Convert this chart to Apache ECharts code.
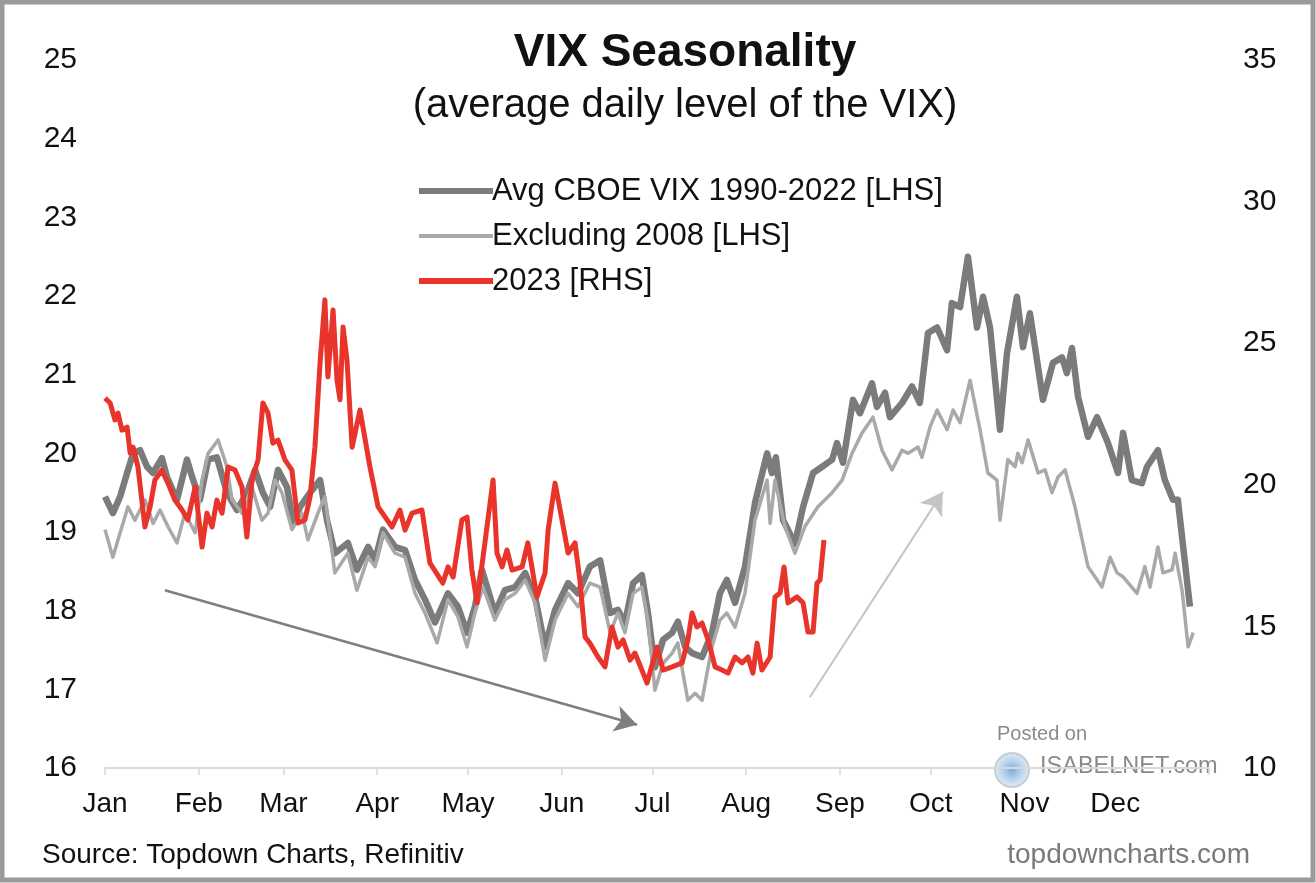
<!DOCTYPE html>
<html>
<head>
<meta charset="utf-8">
<script src="https://cdn.jsdelivr.net/npm/echarts@6/dist/echarts.min.js"></script>
<style>
html,body{margin:0;padding:0;background:#fff;}
#chart{width:1316px;height:883px;}
</style>
</head>
<body>
<div id="chart"></div>
<script>
// Month tick labels and month-start day-of-year positions
const monthLabels = ['Jan','Feb','Mar','Apr','May','Jun','Jul','Aug','Sep','Oct','Nov','Dec'];
const monthStarts = [0,31,59,90,120,151,181,212,243,273,304,334,365];

// Avg CBOE VIX 1990-2022 [LHS] (day of year, level)
const avgDays = [0,2.6,5,7.3,9.3,11.6,13.9,15.9,18.8,20.5,23.8,27.1,28.8,31.4,34.1,37,40.3,43.6,47,49.6,52.2,54.6,57.2,60.2,62.2,64.5,67.8,71.1,73.4,76,80.3,83.3,87,89.3,91.9,95.9,99.2,102.5,105.8,109.1,113.4,116.7,119.7,122.3,124.6,128.9,132.2,135.6,138.9,142.2,145.5,148.8,153.1,156.4,160.3,163.7,167,169.6,171.9,174.6,177.5,179.5,181.8,184.5,187.5,189.4,191.8,194.1,197.4,200.7,203.3,205.6,208.3,211.6,214.9,218.9,220.5,221.8,224.2,228.1,230.8,234.1,237.1,240.4,242,244,247.3,249.6,253.6,255.2,257.9,259.5,263.5,266.8,269.4,272.1,275.1,278.4,280,282.7,285.3,288.3,290.3,292.6,295.9,298.2,301.5,303.5,305.8,310.1,313.4,316.4,318,319.7,321.7,325,328,331.6,334.9,336.6,339.5,342.8,344.5,348.1,350.4,353.1,354.7,358.7];
const avgVals = [19.45,19.24,19.45,19.75,20.0,20.04,19.83,19.75,19.94,19.7,19.41,19.92,19.7,19.41,19.92,19.95,19.5,19.28,19.5,19.79,19.5,19.32,19.79,19.57,19.11,19.32,19.5,19.66,19.15,18.73,18.86,18.52,18.81,18.64,19.03,18.81,18.77,18.39,18.14,17.85,18.22,18.05,17.72,18.05,18.52,17.97,18.26,18.3,18.48,18.17,17.54,18.01,18.35,18.22,18.56,18.64,17.97,18.01,17.84,18.35,18.45,17.97,17.28,17.63,17.72,17.86,17.54,17.46,17.41,17.72,18.22,18.39,18.1,18.56,19.37,20.0,19.75,19.95,19.15,18.85,19.32,19.75,19.83,19.92,20.13,19.88,20.68,20.51,20.89,20.59,20.77,20.46,20.64,20.85,20.64,21.53,21.6,21.31,21.91,21.86,22.5,21.6,21.99,21.6,20.3,21.27,21.99,21.35,21.78,20.68,21.15,21.22,21.02,21.34,20.72,20.21,20.46,20.13,19.75,20.26,19.66,19.62,19.83,20.04,19.66,19.41,19.41,18.05];

// Excluding 2008 [LHS]
const exDays = [0,2.6,5,7.6,9.9,13.2,15.9,18.2,20.8,23.8,26.4,29.8,32.1,34.1,37.4,40.3,42,45.3,48.6,51.9,53.9,56.2,58.5,61.8,65.1,67.1,70.4,72.7,76,80.3,83.3,87,89.3,91.9,95.9,99.2,102.5,105.8,109.8,113.4,116.7,119.7,122.3,125,128.9,132.2,135.6,138.9,142.2,145.5,148.8,153.1,156.4,160.3,163.7,167,169.6,171.9,174.6,177.5,179.5,181.8,184.5,187.5,189.4,191.1,192.7,195.1,197.4,199,200.7,203.3,205.6,208.3,211.6,214.9,218.9,219.9,221.5,224.8,228.1,231.4,235.7,240.4,243.7,247,250.3,253.9,256.9,260.2,263.5,265.5,268.8,270.1,272.8,275.1,278.4,280.4,282.7,286,289.3,291.9,294.9,295.9,298.5,300.9,301.8,303.2,305.2,308.5,310.8,313.1,315.1,317.4,320.7,325,329.6,332.3,334.6,336.6,341.2,343.8,345.5,348.1,349.8,352.8,353.8,356.1,358.1,359.8];
const exVals = [19.03,18.68,18.99,19.32,19.15,19.41,19.11,19.28,19.07,18.86,19.24,18.99,19.66,20.0,20.17,19.83,19.41,19.24,19.57,19.15,19.24,19.66,19.5,19.03,19.24,18.9,19.24,19.45,18.48,18.73,18.26,18.68,18.56,18.99,18.73,18.68,18.22,17.97,17.59,18.14,17.92,17.54,17.97,18.3,17.88,18.14,18.22,18.39,18.1,17.37,17.88,18.22,18.05,18.35,18.3,17.72,17.97,17.72,18.22,18.3,17.88,16.99,17.33,17.46,17.59,17.2,16.86,16.95,16.86,17.2,17.54,17.88,17.97,17.79,18.22,19.15,19.66,19.11,19.66,19.07,18.73,19.07,19.32,19.5,19.66,20.0,20.26,20.46,20.04,19.79,20.04,20.0,20.08,19.95,20.34,20.55,20.3,20.55,20.39,20.93,20.3,19.75,19.66,19.15,19.92,19.83,20.0,19.88,20.17,19.75,19.79,19.5,19.7,19.79,19.32,18.56,18.3,18.68,18.48,18.43,18.22,18.56,18.3,18.81,18.48,18.52,18.73,18.26,17.54,17.72];

// 2023 [RHS]
const y2023Days = [0,1.7,3.3,4.3,5.6,7.3,8.3,9.3,10.9,13.2,14.9,16.5,18.8,20.8,23.1,25.5,27.4,29.8,32.1,33.7,35.4,37,38.7,40.7,43,45.3,46.9,48.6,50.6,52.2,53.9,55.5,57.2,59.5,61.8,63.8,66.1,67.8,69.4,71.1,72.7,73.7,75.4,76.7,77.7,78.7,80,81.7,84.3,87.6,90.3,94.9,97.5,99.2,101.5,104.8,107.4,111.7,113.4,115.1,118,119.7,121.3,123,125.6,128.3,129.6,131.3,132.9,134.6,137.9,139.8,142.8,145.5,146.5,148.8,151.1,153.1,155.4,157,158.7,160.3,163,165.3,167.6,169.6,171.3,173.6,175.2,177.5,179.2,182.5,184.5,187.5,190.8,192.7,194.1,195.7,197.4,199.4,201.7,204,206,208.3,210.6,212.6,214.2,215.6,217.2,219.9,221.5,223.2,224.5,225.8,228.8,230.8,232.4,234.1,235.4,236.4,237.7];
const y2023Vals = [23.06,22.89,22.29,22.53,21.93,22.04,21.12,21.33,20.63,18.51,19.22,20.17,20.52,20.06,19.46,19.11,18.76,19.92,17.8,19.0,18.51,19.46,19.0,20.63,20.52,19.92,18.16,20.17,20.88,22.89,22.53,21.47,21.58,20.88,20.52,18.65,18.76,19.57,21.33,24.3,26.53,23.81,26.17,23.7,23.0,25.57,24.41,21.33,22.64,20.63,19.22,18.51,19.11,18.4,19.0,19.11,17.24,16.53,17.1,16.74,18.76,18.86,16.99,15.83,17.95,20.17,17.59,17.1,17.7,16.99,17.1,17.95,16.04,16.89,18.4,20.06,18.76,17.59,17.95,16.64,14.63,14.41,13.92,13.57,14.98,14.27,14.52,13.81,14.06,13.46,13.0,14.27,13.46,13.57,13.71,14.52,15.47,14.98,15.12,14.52,13.57,13.46,13.35,13.92,13.71,13.92,13.35,14.41,13.46,13.92,16.04,16.18,17.1,15.83,16.04,15.83,14.8,14.8,16.53,16.64,18.05];

// Trend arrows (day, LHS level)
const downArrow = [[19.8,18.26],[175.9,16.55]];
const upArrow = [[233,16.9],[277,19.51]];

const pair = (d, v) => d.map((x, i) => [x, v[i]]);

const FONT = '"Liberation Sans", Arial, Helvetica, sans-serif';
const chart = echarts.init(document.getElementById('chart'), null, {renderer: 'canvas'});

const C_AVG = '#7b7b7b', C_EX = '#a9a9a9', C_23 = '#e8342a';

const option = {
  backgroundColor: '#ffffff',
  animation: false,
  textStyle: {fontFamily: FONT},
  title: [
    {text: 'VIX Seasonality', left: 680, top: 25, textAlign: 'center',
     textStyle: {fontFamily: FONT, fontSize: 46, fontWeight: 'bold', color: '#111'}},
    {text: '(average daily level of the VIX)', left: 680, top: 81, textAlign: 'center',
     textStyle: {fontFamily: FONT, fontSize: 40, fontWeight: 'normal', color: '#111'}}
  ],
  legend: {
    orient: 'vertical', left: 411, top: 168,
    itemWidth: 74, itemHeight: 14, itemGap: 9,
    itemStyle: {opacity: 0},
    textStyle: {fontFamily: FONT, fontSize: 31, color: '#111', lineHeight: 36, padding: [0,0,0,-6]},
    data: [
      {name: 'Avg CBOE VIX 1990-2022 [LHS]', lineStyle: {width: 6, color: C_AVG}},
      {name: 'Excluding 2008 [LHS]', lineStyle: {width: 4, color: C_EX}},
      {name: '2023 [RHS]', lineStyle: {width: 6, color: C_23}}
    ]
  },
  grid: {left: 105, right: 107, top: 60, bottom: 115, containLabel: false},
  xAxis: {
    type: 'value', min: 0, max: 365,
    axisLine: {show: true, lineStyle: {color: '#d9d9d9', width: 2}},
    axisTick: {show: true, length: 7, lineStyle: {color: '#d9d9d9', width: 1.5}, customValues: monthStarts},
    axisLabel: {
      customValues: monthStarts.slice(0, 12),
      formatter: v => monthLabels[monthStarts.indexOf(v)] || '',
      fontFamily: FONT, fontSize: 28, color: '#111', margin: 22
    },
    splitLine: {show: false}
  },
  yAxis: [
    {type: 'value', min: 16, max: 25, interval: 1, position: 'left',
     axisLine: {show: false}, axisTick: {show: false}, splitLine: {show: false},
     axisLabel: {fontFamily: FONT, fontSize: 30, color: '#111', margin: 28}},
    {type: 'value', min: 10, max: 35, interval: 5, position: 'right',
     axisLine: {show: false}, axisTick: {show: false}, splitLine: {show: false},
     axisLabel: {fontFamily: FONT, fontSize: 30, color: '#111', margin: 34}}
  ],
  series: [
    {name: 'Avg CBOE VIX 1990-2022 [LHS]', type: 'line', yAxisIndex: 0, showSymbol: false, symbol: 'none',
     data: pair(avgDays, avgVals), lineStyle: {color: C_AVG, width: 6.5, join: 'round'}, itemStyle: {color: C_AVG},
     z: 2,
     markLine: {
       silent: true, symbol: ['none', 'arrow'], symbolSize: [20, 22], label: {show: false},
       data: [
         [{coord: downArrow[0], lineStyle: {color: '#7f7f7f', width: 2.5, type: 'solid'}}, {coord: downArrow[1]}],
         [{coord: upArrow[0], lineStyle: {color: '#c4c4c4', width: 2, type: 'solid'}}, {coord: upArrow[1]}]
       ]
     }},
    {name: 'Excluding 2008 [LHS]', type: 'line', yAxisIndex: 0, showSymbol: false, symbol: 'none',
     data: pair(exDays, exVals), lineStyle: {color: C_EX, width: 3.5, join: 'round'}, itemStyle: {color: C_EX}, z: 3},
    {name: '2023 [RHS]', type: 'line', yAxisIndex: 1, showSymbol: false, symbol: 'none',
     data: pair(y2023Days, y2023Vals), lineStyle: {color: C_23, width: 5, join: 'round'}, itemStyle: {color: C_23}, z: 4}
  ],
  graphic: [
    {type: 'rect', shape: {x: 2, y: 2, width: 1311, height: 878}, style: {fill: 'none', stroke: '#9a9a9a', lineWidth: 5}, z: 100, silent: true},
    {type: 'text', left: 42, top: 841, style: {text: 'Source: Topdown Charts, Refinitiv', fontFamily: FONT, fontSize: 28, fill: '#111'}},
    {type: 'text', right: 66, top: 841, style: {text: 'topdowncharts.com', fontFamily: FONT, fontSize: 28, fill: '#7a7a7a'}},
    {type: 'text', left: 997, top: 724, style: {text: 'Posted on', fontFamily: FONT, fontSize: 20, fill: '#8a8a8a'}},
    {type: 'text', left: 1040, top: 755, style: {text: 'ISABELNET.com', fontFamily: FONT, fontSize: 23.5, fill: '#8a8a8a'}},
    {type: 'circle', shape: {cx: 1012, cy: 770, r: 17},
     style: {fill: new echarts.graphic.RadialGradient(0.5, 0.5, 0.5, [{offset: 0, color: 'rgba(90,160,220,0.85)'}, {offset: 1, color: 'rgba(200,215,230,0.5)'}]), stroke: 'rgba(180,190,200,0.7)', lineWidth: 2}}
  ]
};
chart.setOption(option);
</script>
</body>
</html>
